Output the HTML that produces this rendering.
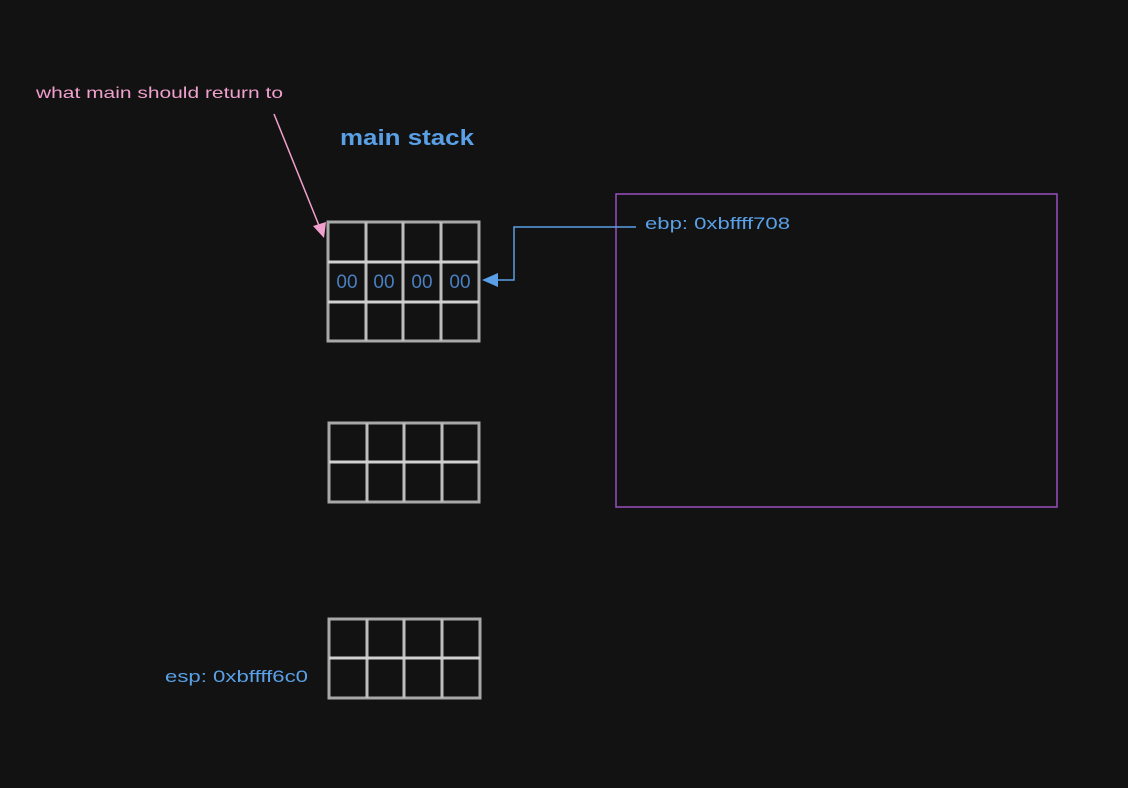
<!DOCTYPE html>
<html><head><meta charset="utf-8"><style>
html,body{margin:0;padding:0;background:#121212;}
svg{display:block;font-family:"Liberation Sans",sans-serif;}
</style></head><body>
<svg width="1128" height="788" viewBox="0 0 1128 788">
<rect width="1128" height="788" fill="#121212"/>
<text x="36" y="98" fill="#f0a0cc" font-size="16" textLength="247" lengthAdjust="spacingAndGlyphs">what main should return to</text>
<line x1="274" y1="114" x2="320" y2="228" stroke="#f0a0cc" stroke-width="1.5"/>
<polygon points="324,238 313,226 326,222" fill="#f0a0cc"/>
<text x="340" y="145" fill="#5aa0e6" font-size="22" font-weight="bold" textLength="134" lengthAdjust="spacingAndGlyphs">main stack</text>

<g stroke="#bdbdbd" stroke-width="3" fill="none">
<rect x="328" y="222" width="151" height="119" stroke="#a8a8a8"/>
<line x1="366" y1="222" x2="366" y2="341"/><line x1="403" y1="222" x2="403" y2="341"/><line x1="441" y1="222" x2="441" y2="341"/>
<line x1="328" y1="262" x2="479" y2="262" stroke="#d0d0d0"/><line x1="328" y1="302" x2="479" y2="302" stroke="#d0d0d0"/>
</g>
<g fill="#4a7fc0" font-size="19" text-anchor="middle">
<text x="347" y="288">00</text><text x="384" y="288">00</text><text x="422" y="288">00</text><text x="460" y="288">00</text>
</g>

<g stroke="#bdbdbd" stroke-width="3" fill="none">
<rect x="329" y="423" width="150" height="79" stroke="#a8a8a8"/>
<line x1="367" y1="423" x2="367" y2="502"/><line x1="404" y1="423" x2="404" y2="502"/><line x1="442" y1="423" x2="442" y2="502"/>
<line x1="329" y1="462" x2="479" y2="462" stroke="#d0d0d0"/>
</g>
<g stroke="#bdbdbd" stroke-width="3" fill="none">
<rect x="329" y="619" width="151" height="79" stroke="#a8a8a8"/>
<line x1="367" y1="619" x2="367" y2="698"/><line x1="404" y1="619" x2="404" y2="698"/><line x1="442" y1="619" x2="442" y2="698"/>
<line x1="329" y1="658" x2="480" y2="658" stroke="#d0d0d0"/>
</g>

<rect x="616" y="194" width="441" height="313" fill="none" stroke="#9a4fbf" stroke-width="1.5"/>
<polyline points="636,227 514,227 514,280 496,280" fill="none" stroke="#5aa0e6" stroke-width="1.5"/>
<polygon points="482,280 498,273 498,287" fill="#5aa0e6"/>
<text x="645" y="229" fill="#5aa0e6" font-size="17" textLength="145" lengthAdjust="spacingAndGlyphs">ebp: 0xbffff708</text>
<text x="165" y="682" fill="#5aa0e6" font-size="17" textLength="143" lengthAdjust="spacingAndGlyphs">esp: 0xbffff6c0</text>
</svg>
</body></html>
